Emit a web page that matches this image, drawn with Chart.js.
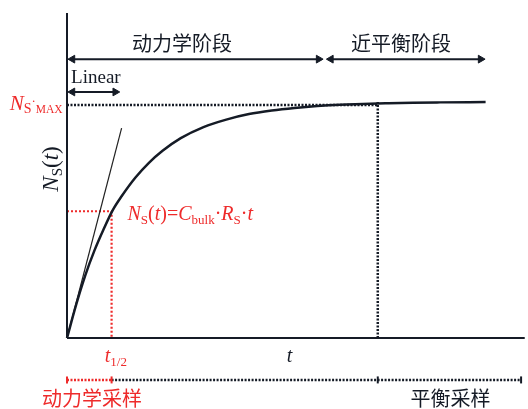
<!DOCTYPE html>
<html>
<head>
<meta charset="utf-8">
<script src="https://cdn.jsdelivr.net/npm/chart.js@4.4.0/dist/chart.umd.min.js"></script>
<style>
html, body { margin: 0; padding: 0; background: #fff; }
</style>
</head>
<body>
<canvas id="nsChart" width="528" height="409"></canvas>
<script>
// N_S(t) uptake curve (arbitrary units)
const tValues  = [0, 2, 4, 6, 8, 10, 12, 15, 18, 21, 25, 30, 35, 40, 45, 50, 55, 60, 65, 70, 76, 82, 92];
const nsValues = [0, 10.2, 19.2, 26.8, 33.3, 39.2, 43.6, 49.3, 53.9, 57.6, 61.5, 64.9, 67.2, 68.9, 70.0, 70.8, 71.4, 71.8, 72.0, 72.2, 72.4, 72.5, 72.6];

// linear (initial slope) segment
const tangentT  = [0, 12.0];
const tangentNs = [0, 64.6];

// key markers
const tHalf = 9.8;
const nsHalf = 39.0;
const tEq = 68.3;
const nsMax = 71.7;
const nsPlateau = 72.6;

// phase arrows: [start, end] in t
const kineticPhase = [1.2, 55.3];
const nearEqPhase = [58.0, 90.9];
const linearPhase = [1.2, 10.6];
const phaseRowNs = 85.8;
const linearRowNs = 75.7;

// sampling strip below the t axis
const samplingNs = -12.9;
const kineticSampling = [0, tHalf];
const eqSampling = [tHalf, tEq, 99.8];

const RED = '#ee2b2b';
const INK = '#151b26';
const SERIF = '"Liberation Serif", "DejaVu Serif", serif';
const CJK = '"Noto Sans CJK SC", sans-serif';

function seg(xs, ys) {
    return xs.map((x, i) => ({ x: x, y: ys[i] }));
}

function arrowSet(range, y) {
    return {
        data: seg(range, [y, y]),
        borderColor: INK,
        borderWidth: 2,
        pointStyle: 'triangle',
        pointRotation: [-90, 90],
        pointRadius: 4.5,
        pointBackgroundColor: INK,
        pointBorderColor: INK,
        pointBorderWidth: 1
    };
}

function drawRuns(ctx, x, y, runs) {
    let cx = x;
    runs.forEach(r => {
        ctx.font = r.font;
        ctx.fillStyle = r.color;
        ctx.fillText(r.text, cx, y + (r.dy || 0));
        cx += ctx.measureText(r.text).width;
    });
    return cx - x;
}

function runsWidth(ctx, runs) {
    let w = 0;
    runs.forEach(r => { ctx.font = r.font; w += ctx.measureText(r.text).width; });
    return w;
}

const it = (size) => 'italic ' + size + 'px ' + SERIF;
const rm = (size) => size + 'px ' + SERIF;

// text labels drawn at data positions
const labelPlugin = {
    id: 'labels',
    afterDatasetsDraw(chart) {
        const ctx = chart.ctx;
        const sx = chart.scales.x, sy = chart.scales.y;
        const px = (u) => sx.getPixelForValue(u);
        const py = (v) => sy.getPixelForValue(v);
        ctx.save();
        ctx.textBaseline = 'middle';
        ctx.textAlign = 'center';
        ctx.font = '20px ' + CJK;
        ctx.fillStyle = INK;
        ctx.fillText('动力学阶段', px(25.3), py(90.5));
        ctx.fillText('近平衡阶段', px(73.4), py(90.5));

        ctx.textAlign = 'left';
        ctx.fillText('平衡采样', px(75.5), py(-18.5));
        ctx.fillStyle = RED;
        ctx.fillText('动力学采样', px(-5.5), py(-18.5));

        ctx.textBaseline = 'alphabetic';
        drawRuns(ctx, px(0.9), py(78.5), [{ text: 'Linear', font: rm(19), color: INK }]);

        drawRuns(ctx, px(-12.6), py(70.2), [
            { text: 'N', font: it(21), color: RED },
            { text: 'S', font: rm(14), color: RED, dy: 3 },
            { text: '·', font: rm(13), color: RED, dy: -5 },
            { text: 'MAX', font: rm(11.5), color: RED, dy: 3 }
        ]);

        drawRuns(ctx, px(13.3), py(36.3), [
            { text: 'N', font: it(20), color: RED },
            { text: 'S', font: rm(13), color: RED, dy: 4 },
            { text: '(', font: rm(20), color: RED },
            { text: 't', font: it(20), color: RED },
            { text: ')=', font: rm(20), color: RED },
            { text: 'C', font: it(20), color: RED },
            { text: 'bulk', font: rm(13), color: RED, dy: 4 },
            { text: '·', font: rm(20), color: RED },
            { text: 'R', font: it(20), color: RED },
            { text: 'S', font: rm(13), color: RED, dy: 4 },
            { text: '·', font: rm(20), color: RED },
            { text: 't', font: it(20), color: RED }
        ]);

        drawRuns(ctx, px(8.3), py(-7.4), [
            { text: 't', font: it(20), color: RED },
            { text: '1/2', font: rm(13), color: RED, dy: 4 }
        ]);
        drawRuns(ctx, px(48.3), py(-7.4), [{ text: 't', font: it(20), color: INK }]);

        // rotated y label
        const yRuns = [
            { text: 'N', font: it(23), color: INK },
            { text: 'S', font: rm(15), color: INK, dy: 4 },
            { text: '(', font: rm(23), color: INK },
            { text: 't', font: it(23), color: INK },
            { text: ')', font: rm(23), color: INK }
        ];
        ctx.translate(px(-2.0), py(52));
        ctx.rotate(-Math.PI / 2);
        drawRuns(ctx, -runsWidth(ctx, yRuns) / 2, 0, yRuns);
        ctx.restore();
    }
};

const ctx = document.getElementById('nsChart').getContext('2d');
new Chart(ctx, {
    type: 'line',
    data: {
        datasets: [
            // axes
            { data: seg([0, 100.6], [0, 0]), borderColor: INK, borderWidth: 2, pointRadius: 0 },
            { data: seg([0, 0], [0, 100]), borderColor: INK, borderWidth: 2, pointRadius: 0 },
            // N_S,MAX and equilibrium time guides
            { data: seg([0, tEq], [nsMax, nsMax]), borderColor: INK, borderWidth: 2.5, borderDash: [2, 1.5], pointRadius: 0 },
            { data: seg([tEq, tEq], [0, nsPlateau]), borderColor: INK, borderWidth: 2.5, borderDash: [2, 1.5], pointRadius: 0 },
            // uptake curve
            { data: seg(tValues, nsValues), borderColor: INK, borderWidth: 2.5, pointRadius: 0, cubicInterpolationMode: 'monotone' },
            // linear tangent
            { data: seg(tangentT, tangentNs), borderColor: '#222', borderWidth: 1.2, pointRadius: 0 },
            // t1/2 guides
            { data: seg([0, tHalf, tHalf], [nsHalf, nsHalf, 0]), borderColor: RED, borderWidth: 2.2, borderDash: [2, 2], pointRadius: 0 },
            // phase arrows
            arrowSet(kineticPhase, phaseRowNs),
            arrowSet(nearEqPhase, phaseRowNs),
            arrowSet(linearPhase, linearRowNs),
            // sampling strip
            {
                data: seg(kineticSampling, [samplingNs, samplingNs]),
                borderColor: RED, borderWidth: 2.5, borderDash: [2, 1.5],
                pointStyle: 'line', pointRotation: 90, pointRadius: 3.5,
                pointBorderColor: RED, pointBorderWidth: 2
            },
            {
                data: seg(eqSampling, eqSampling.map(() => samplingNs)),
                borderColor: INK, borderWidth: 2.5, borderDash: [2, 1.5],
                pointStyle: 'line', pointRotation: 90, pointRadius: [0, 3.5, 3.5],
                pointBorderColor: INK, pointBorderWidth: 2
            }
        ]
    },
    options: {
        responsive: false,
        animation: false,
        devicePixelRatio: 1,
        clip: false,
        layout: { padding: { left: 67, right: 3, top: 13, bottom: 6 } },
        plugins: { legend: { display: false }, tooltip: { enabled: false } },
        scales: {
            x: { type: 'linear', min: 0, max: 100, display: false },
            y: { type: 'linear', min: -20, max: 100, display: false }
        }
    },
    plugins: [labelPlugin]
});
</script>
</body>
</html>
